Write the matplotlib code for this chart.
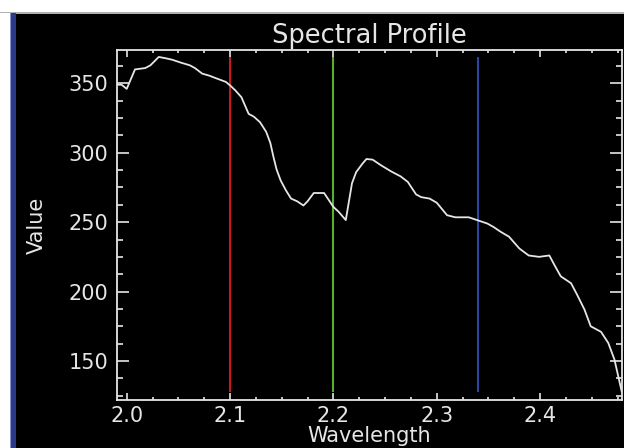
import matplotlib
matplotlib.use("Agg")
import matplotlib.pyplot as plt
from matplotlib.patches import Rectangle
from matplotlib.ticker import MultipleLocator

wavelength = [1.9916, 1.995, 2.000, 2.008, 2.018, 2.023, 2.031, 2.038, 2.044, 2.052,
              2.061, 2.066, 2.073, 2.080, 2.087, 2.096, 2.100, 2.105, 2.111, 2.118,
              2.123, 2.129, 2.135, 2.139, 2.142, 2.145, 2.149, 2.154, 2.159, 2.165,
              2.171, 2.175, 2.181, 2.191, 2.200, 2.205, 2.212, 2.218, 2.222, 2.228,
              2.232, 2.238, 2.246, 2.256, 2.265, 2.272, 2.280, 2.285, 2.293, 2.300,
              2.310, 2.318, 2.331, 2.339, 2.349, 2.355, 2.362, 2.370, 2.380, 2.389,
              2.399, 2.409, 2.414, 2.420, 2.430, 2.436, 2.443, 2.449, 2.459, 2.466,
              2.472, 2.479]
value = [349, 349, 346, 360, 361, 363, 369, 368, 367, 365,
         363, 361, 357, 355.5, 353.5, 351, 348.5, 345, 340, 328,
         326, 322, 315, 307, 297, 288, 280, 273, 267, 265,
         262, 265, 271, 271, 261, 257.5, 251.5, 278, 286, 292,
         295.5, 295, 291, 286.5, 283, 279, 270, 268, 267, 264,
         255, 253.5, 253.5, 251.5, 249, 246.5, 243, 239.5, 231, 226,
         225, 226, 219, 211, 206, 197.5, 187, 175, 171, 163,
         151, 128]
band_markers = [2.1, 2.2, 2.34]
marker_colors = ["#c81818", "#58b030", "#2a44a0"]

W, H = 624, 448
fig = plt.figure(figsize=(W / 100, H / 100), dpi=100, facecolor="black")

# window frame decorations
fig.patches.append(Rectangle((0, 1 - 13 / H), 1, 13 / H, transform=fig.transFigure,
                             facecolor="white", edgecolor="none", zorder=0))
fig.patches.append(Rectangle((0, 1 - 14 / H), 1, 1.5 / H, transform=fig.transFigure,
                             facecolor="#b0b0b0", edgecolor="none", zorder=0))
fig.patches.append(Rectangle((0, 0), 10 / W, 1 - 13 / H, transform=fig.transFigure,
                             facecolor="white", edgecolor="none", zorder=0))
fig.patches.append(Rectangle((10 / W, 0), 6 / W, 1 - 13 / H, transform=fig.transFigure,
                             facecolor="#2c3a8c", edgecolor="none", zorder=0))
fig.patches.append(Rectangle((10 / W, 0), 1.2 / W, 1 - 13 / H, transform=fig.transFigure,
                             facecolor="#8a96c8", edgecolor="none", zorder=0))

left, right, top, bottom = 117, 621.7, 50, 400
ax = fig.add_axes([left / W, 1 - bottom / H, (right - left) / W, (bottom - top) / H])
ax.set_facecolor("black")

fg = "#e6e6e6"
ax.plot(wavelength, value, color=fg, lw=1.3, zorder=3)
ax.vlines(band_markers, min(value), max(value), colors=marker_colors, lw=1.5, zorder=2)

ax.set_xlim(1.9906, 2.479)
ax.set_ylim(121.9, 374)
ax.xaxis.set_major_locator(MultipleLocator(0.1))
ax.xaxis.set_minor_locator(MultipleLocator(0.025))
ax.yaxis.set_major_locator(MultipleLocator(50))
ax.yaxis.set_minor_locator(MultipleLocator(12.5))
ax.xaxis.set_major_formatter(matplotlib.ticker.FormatStrFormatter("%.1f"))

for s in ax.spines.values():
    s.set_color(fg)
    s.set_linewidth(1.3)

ax.tick_params(axis="both", which="both", direction="in", colors=fg,
               top=True, right=True, width=1.2, labelsize=15)
ax.tick_params(axis="x", which="major", length=5, pad=4.4)
ax.tick_params(axis="x", which="minor", length=2.5)
ax.tick_params(axis="y", which="major", length=8.6, pad=6.5)
ax.tick_params(axis="y", which="minor", length=4.3)

ax.set_title("Spectral Profile", color=fg, fontsize=18.5, pad=4.8)
ax.set_xlabel("Wavelength", color=fg, fontsize=15)
ax.set_ylabel("Value", color=fg, fontsize=15)
ax.xaxis.set_label_coords(0.5, -0.074)
ax.yaxis.set_label_coords(-0.1395, 0.5)

fig.savefig("out.png", dpi=100, facecolor="black")
